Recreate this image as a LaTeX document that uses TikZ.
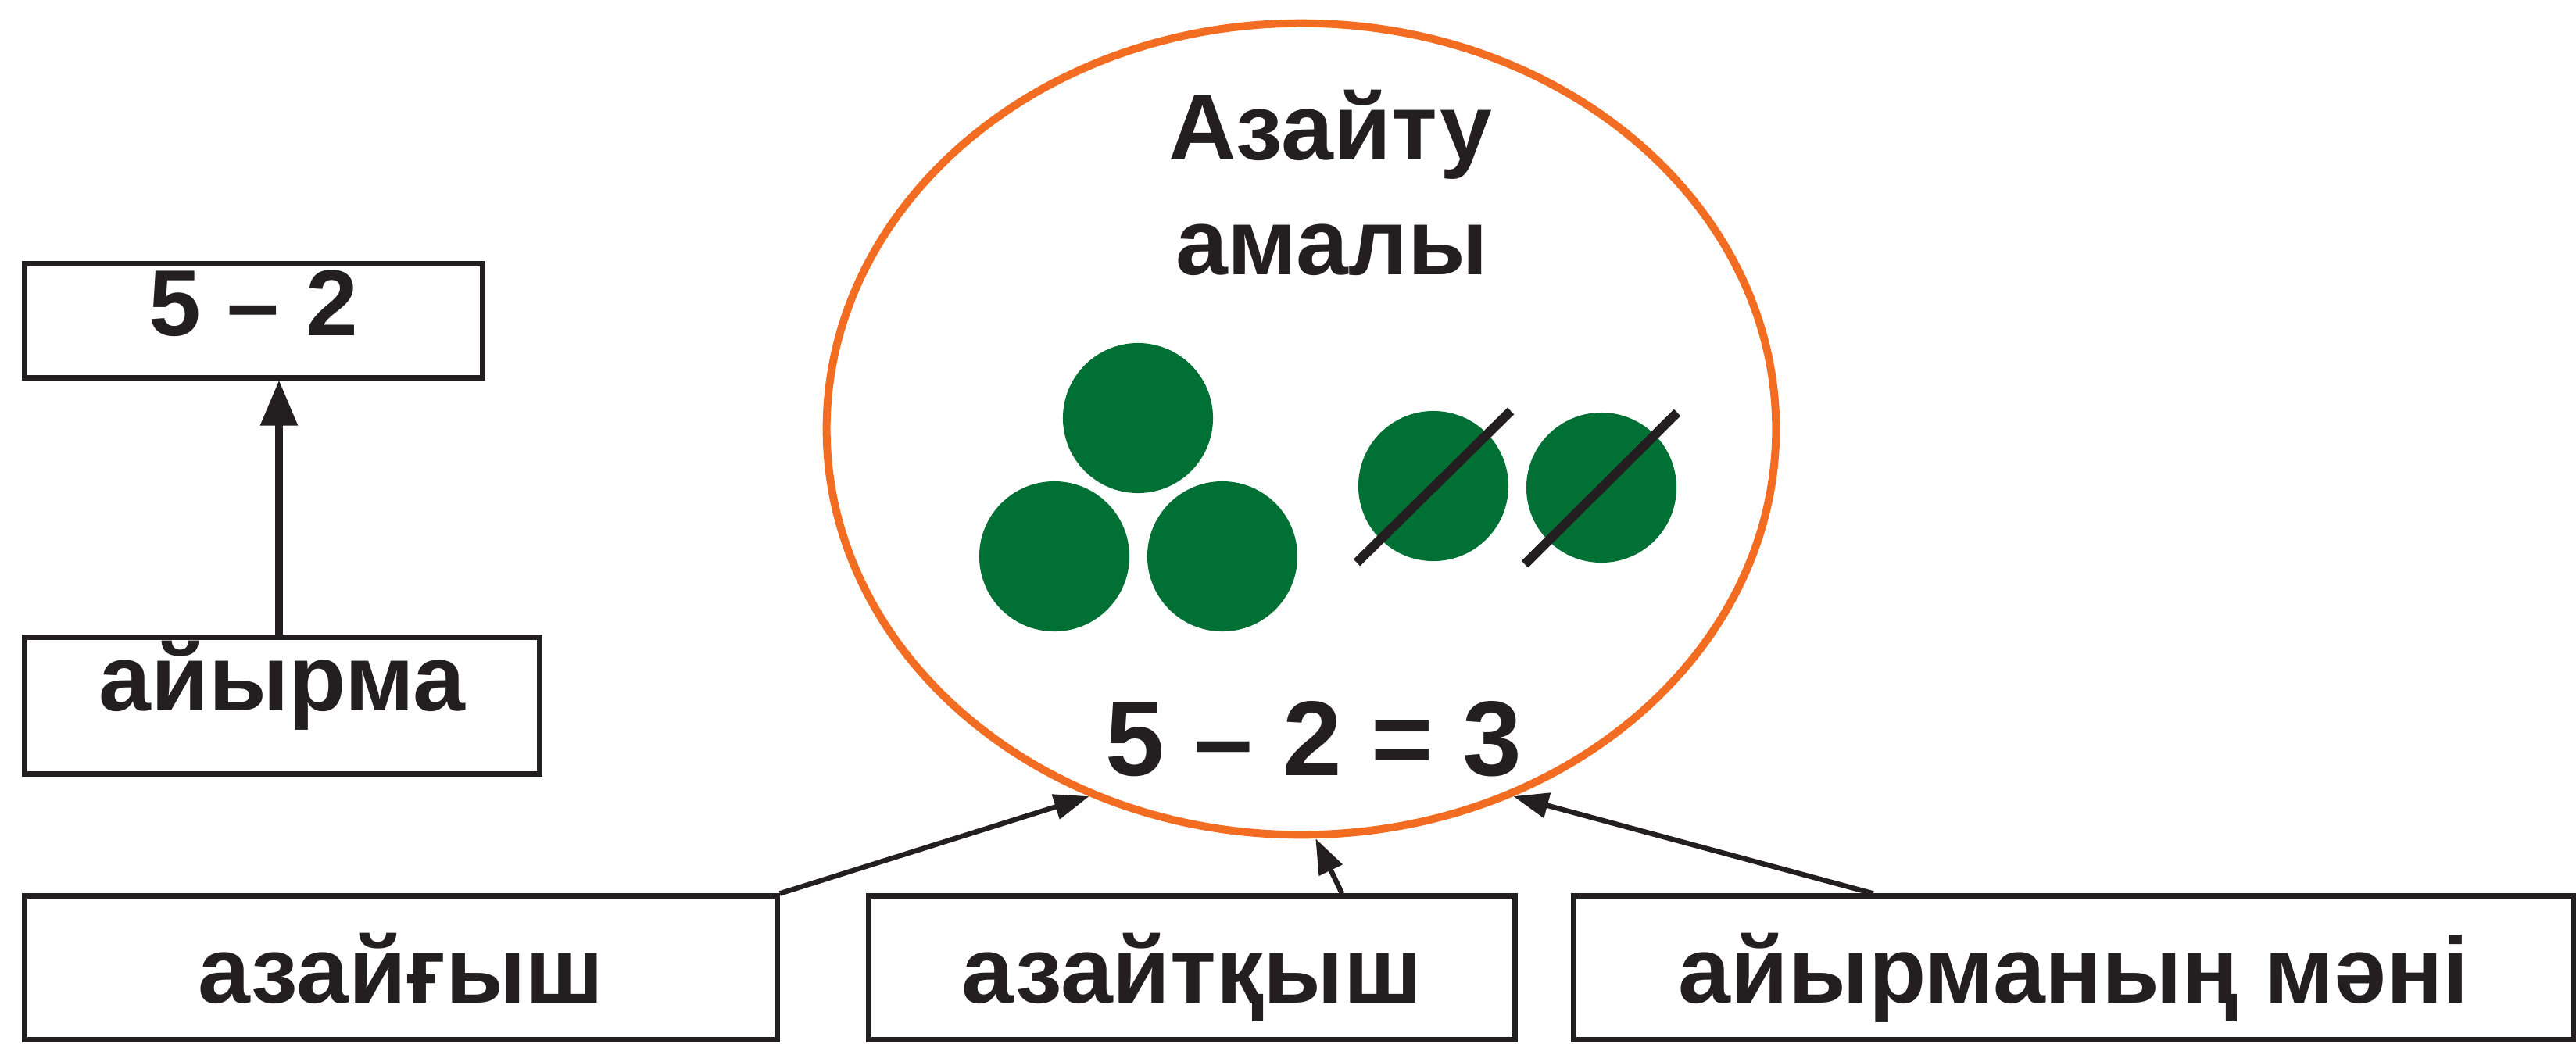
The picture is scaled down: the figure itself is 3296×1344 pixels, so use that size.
\documentclass[tikz,border=0pt]{standalone}
\usepackage{fontspec}
\setmainfont{Liberation Sans}
\usetikzlibrary{arrows.meta,shapes.geometric}
\definecolor{ink}{RGB}{35,31,32}
\definecolor{ballgreen}{RGB}{0,112,52}
\definecolor{ringorange}{RGB}{242,108,33}
\begin{document}
\begin{tikzpicture}[x=0.01cm,y=-0.01cm,
  lbl/.style={font=\fontsize{34.14}{41}\selectfont\bfseries, text=ink},
  box/.style={draw=ink, line width=0.07cm, rectangle, inner sep=0pt, text depth=0pt, lbl},
  ball/.style={circle, fill=ballgreen, minimum size=1.92cm, inner sep=0pt},
  slash/.style={draw=ink, line width=0.12cm},
  arr/.style={draw=ink, line width=0.065cm, -{Triangle[length=0.45cm,width=0.32cm]}},
  bigarr/.style={draw=ink, line width=0.09cm, -{Triangle[length=0.58cm,width=0.46cm]}}
]
\useasboundingbox (0,0) rectangle (3296,1344);

% left column
\node[box, minimum width=5.85cm, minimum height=1.45cm, text height=0.37cm] (b52) at (324.5,410.5) {5 – 2};
\node[box, minimum width=6.58cm, minimum height=1.74cm, text height=0.12cm] (ayr) at (361,903) {айырма};
\coordinate (ua) at ([xshift=-0.04cm]ayr.north);
\draw[bigarr] (ua) -- (ua |- b52.south);

% ellipse
\node[ellipse, draw=ringorange, line width=0.1cm, minimum width=12.14cm, minimum height=10.38cm, inner sep=0pt] (ell) at (1665,549) {};
\node[lbl, anchor=base] (t1) at (1702,204) {Азайту};
\node[lbl, anchor=base] (t2) at (1704,351) {амалы};

\node[ball] (c1) at (1456,535) {};
\node[ball] (c2) at (1349,712) {};
\node[ball] (c3) at (1564,712) {};
\node[ball] (c4) at (1834,622) {};
\node[ball] (c5) at (2049,624) {};
\draw[slash] ([shift={(-98,98)}]c4.center) -- ([shift={(99,-96)}]c4.center);
\draw[slash] ([shift={(-98,98)}]c5.center) -- ([shift={(97,-96)}]c5.center);

\node[font=\fontsize{38.7}{46}\selectfont\bfseries, text=ink, anchor=base] (eq) at (1681,992) {5 – 2 = 3};

% bottom boxes
\node[box, minimum width=9.62cm, minimum height=1.83cm, text height=0.89cm] (az) at (513,1238.5) {азайғыш};
\node[box, minimum width=8.26cm, minimum height=1.83cm, text height=0.89cm] (azt) at (1525,1238.5) {азайтқыш};
\node[box, minimum width=12.79cm, minimum height=1.83cm, text height=0.89cm] (amn) at (2653.5,1238.5) {айырманың мәні};

% connectors
\draw[arr] (az.north east) -- (ell.-120.5);
\draw[arr] ([xshift=1.92cm]azt.north) -- (ell.-88);
\draw[arr] ([xshift=-2.565cm]amn.north) -- (ell.-60.6);
\end{tikzpicture}
\end{document}
